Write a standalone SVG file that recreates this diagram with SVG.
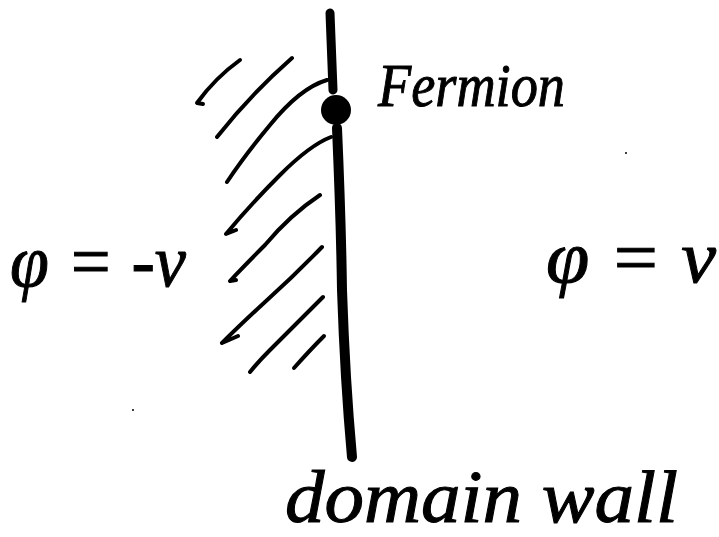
<svg xmlns="http://www.w3.org/2000/svg" width="719" height="537" viewBox="0 0 719 537">
<style>
.hatch{fill:none;stroke:#000;stroke-width:4;stroke-linecap:round;stroke-linejoin:round}
.wall{fill:none;stroke:#000;stroke-linecap:round}
.hand{font-family:"Liberation Serif",serif;font-style:italic;fill:#000;stroke:#000;stroke-width:1}
</style>
<rect width="719" height="537" fill="#fff"/>
<g id="hatching">
<path class="hatch" d="M240,60 Q215,78 197,103 L203,104"/>
<path class="hatch" d="M292,58 Q250,95 217,137"/>
<path class="hatch" d="M327,80 Q300,88 270,125 Q245,155 227,182"/>
<path class="hatch" d="M331,137 Q310,145 280,175 Q250,205 226,234 L236,230"/>
<path class="hatch" d="M320,195 Q290,215 265,245 Q245,265 230,281 L236,280"/>
<path class="hatch" d="M322,247 Q295,275 265,302 Q240,325 222,343 L238,336"/>
<path class="hatch" d="M323,297 Q295,325 270,350 Q258,362 250,372"/>
<path class="hatch" d="M324,336 Q310,350 294,368"/>
</g>
<g id="domain-wall">
<path class="wall" stroke-width="9" d="M330,13 L333,90"/>
<path class="wall" stroke-width="10" d="M337,128 Q341,220 342,290 Q345,380 352,457"/>
</g>
<g id="fermion">
<circle cx="336" cy="110" r="15" fill="#000"/>
<text class="hand" x="378" y="106" font-size="62" stroke-width="1.5" textLength="187" lengthAdjust="spacingAndGlyphs">Fermion</text>
</g>
<g id="left-region">
<text class="hand" x="10" y="286" font-size="74" textLength="176" lengthAdjust="spacingAndGlyphs">φ = -v</text>
</g>
<g id="right-region">
<text class="hand" x="546" y="282" font-size="74" textLength="170" lengthAdjust="spacingAndGlyphs">φ = v</text>
</g>
<g id="label">
<text class="hand" x="285" y="522" font-size="74" stroke-width="3" textLength="393" lengthAdjust="spacingAndGlyphs">domain wall</text>
</g>
<g id="specks" fill="#000">
<circle cx="182" cy="257" r="1.5"/>
<circle cx="626" cy="153" r="1"/>
<circle cx="133" cy="410" r="1"/>
</g>
</svg>
